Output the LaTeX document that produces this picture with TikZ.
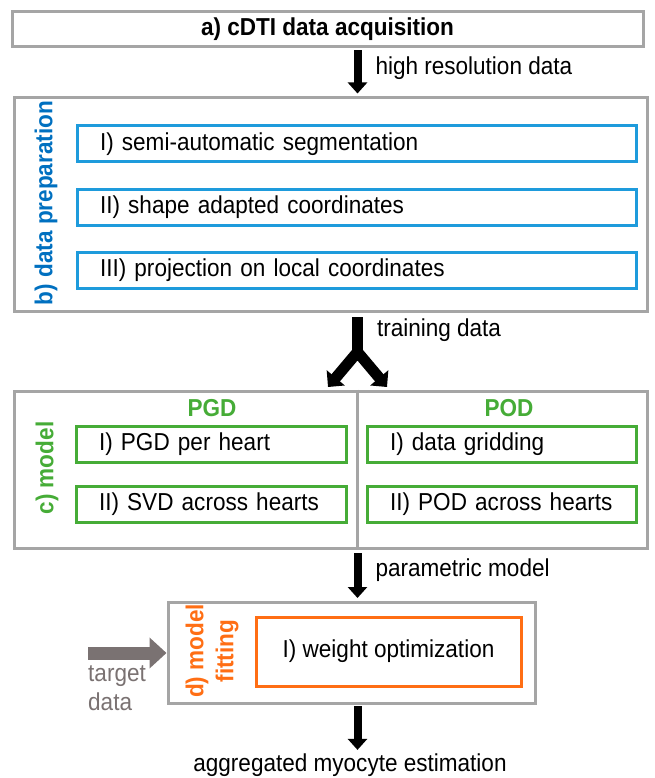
\documentclass[tikz,border=0pt]{standalone}
\usepackage{fontspec}
\setmainfont[FakeStretch=0.92]{Liberation Sans}
\usetikzlibrary{arrows.meta,positioning}
\definecolor{framegray}{RGB}{165,165,165}
\definecolor{prepblue}{RGB}{0,112,192}
\definecolor{boxblue}{RGB}{30,155,220}
\definecolor{modelgreen}{RGB}{70,172,55}
\definecolor{fitorange}{RGB}{255,110,20}
\definecolor{targetgray}{RGB}{122,114,114}
\begin{document}
\begin{tikzpicture}
        [x=1pt,y=-1pt,
         every node/.style={font=\fontsize{24.5}{29}\selectfont, inner sep=0pt},
         stage/.style={draw=framegray, line width=3pt},
         substep/.style={draw=#1, line width=3pt, minimum height=36pt, align=left, inner xsep=23pt},
         steplabel/.style={font=\fontsize{24.5}{30}\selectfont\bfseries, rotate=90, align=center},
         flowarrow/.style={line width=8pt, -{Triangle[width=19pt,length=11pt]}},
         forkarrow/.style={line width=11pt, {Triangle[width=23pt,length=12pt]}-{Triangle[width=23pt,length=12pt]}},
         feedarrow/.style={draw=targetgray, line width=13pt, -{Triangle[width=30pt,length=17pt]}}]
        \useasboundingbox (0,0) rectangle (655,778);
        \coordinate (axis) at (357.5,0);

        % a) acquisition
        \node[stage, minimum width=631pt, minimum height=35pt,
              font=\fontsize{24.5}{29}\selectfont\bfseries] (acq) at (327.5,29.5) {a) cDTI data acquisition};

        % b) data preparation
        \node[stage, minimum width=633pt, minimum height=213pt] (prep) at (330.5,204.5) {};
        \node[steplabel, text=prepblue] (preplbl) at (46,203) {b) data preparation};
        \node[substep=boxblue, text width=513pt] (seg) at (356.5,144) {I) semi-automatic segmentation};
        \node[substep=boxblue, text width=513pt] (shape) at (356.5,207) {II) shape adapted coordinates};
        \node[substep=boxblue, text width=513pt] (proj) at (356.5,270) {III) projection on local coordinates};

        % c) model
        \node[stage, minimum width=633pt, minimum height=157pt] (model) at (330.5,469.5) {};
        \draw[framegray, line width=2.5pt] (model.north -| axis) -- (model.south -| axis);
        \node[steplabel, text=modelgreen] (modellbl) at (47,468) {c) model};
        \node[font=\fontsize{24.5}{29}\selectfont\bfseries, text=modelgreen] (pgd) at (212,408) {PGD};
        \node[font=\fontsize{24.5}{29}\selectfont\bfseries, text=modelgreen] (pod) at (509,408) {POD};
        \node[substep=modelgreen, text width=224pt] (pgdI) at (211,444) {I) PGD per heart};
        \node[substep=modelgreen, text width=224pt] (pgdII) at (211,504) {II) SVD across hearts};
        \node[substep=modelgreen, text width=223pt] (podI) at (501.5,444) {I) data gridding};
        \node[substep=modelgreen, text width=223pt] (podII) at (501.5,504) {II) POD across hearts};

        % d) model fitting
        \node[stage, minimum width=367pt, minimum height=101pt] (fit) at (351.5,652.5) {};
        \node[steplabel, text=fitorange] (fitlbl) at (212,651) {d) model\\fitting};
        \node[draw=fitorange, line width=3pt, minimum width=265pt, minimum height=69pt] (optim) at (388.5,651.5) {I) weight optimization};
        \node[anchor=west, align=left, text=targetgray] (target) at (88,688) {target\\data};
        \coordinate (tgt) at (88,653);
        \node (final) at (350,765) {aggregated myocyte estimation};

        % connectors
        \draw[flowarrow, shorten <=2pt, shorten >=3pt] (acq.south -| axis) -- (prep.north -| axis)
          node[pos=0.4, right=14pt] {high resolution data};

        \coordinate (fork) at (357.5,352);
        \coordinate (forkL) at (328,387);
        \coordinate (forkR) at (387,387);
        \draw[line width=11pt, shorten <=4.5pt] (prep.south -| axis) -- (fork)
          node[pos=0.45, right=14pt] {training data};
        \draw[forkarrow] (forkL) -- (fork) -- (forkR);

        \draw[flowarrow, shorten <=3.5pt, shorten >=2.5pt] (model.south -| axis) -- (fit.north -| axis)
          node[pos=0.4, right=14pt] {parametric model};
        \draw[feedarrow] (tgt) -- (tgt -| fit.west);
        \draw[flowarrow, shorten <=1.5pt, shorten >=3.5pt] (fit.south -| axis) -- (final.north -| axis);
      \end{tikzpicture}
\end{document}
